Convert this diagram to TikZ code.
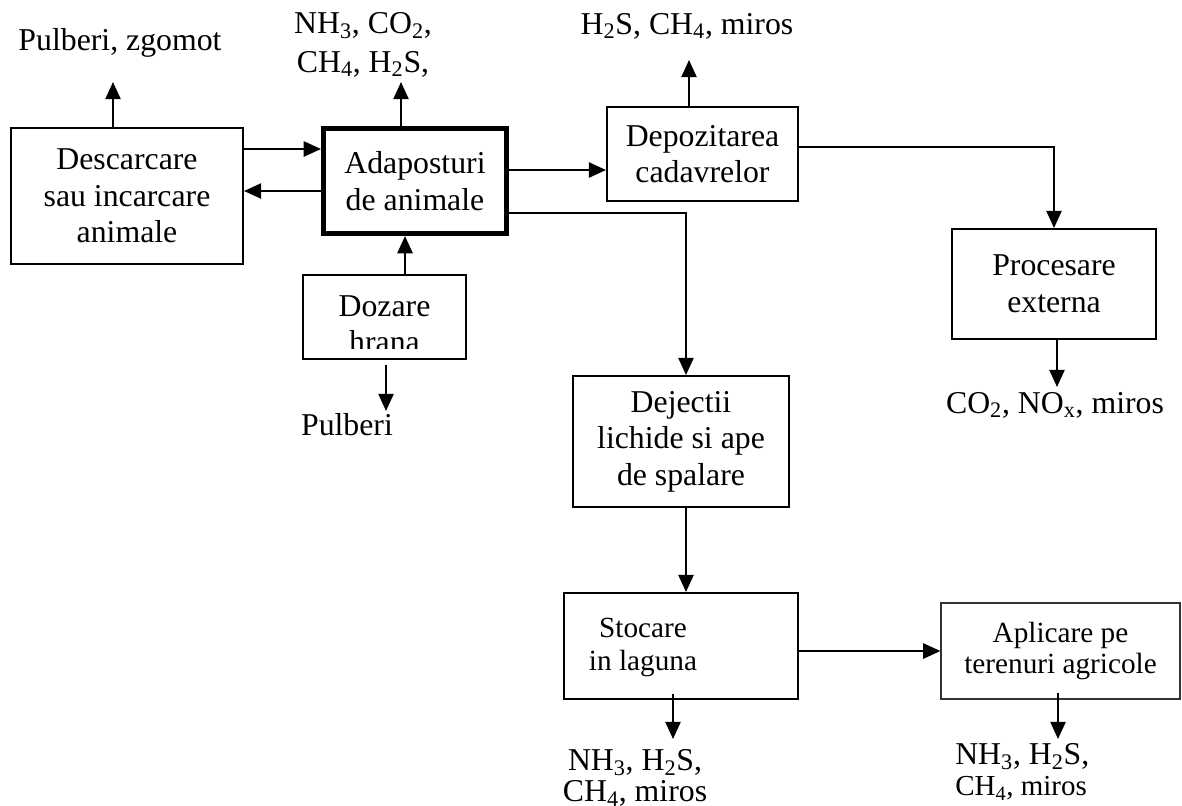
\documentclass[tikz,border=0pt]{standalone}
\usepackage{fontspec}
\setmainfont{Liberation Serif}
\usetikzlibrary{arrows.meta}

\newcommand{\bigtxt}{\fontsize{22.6}{26}\selectfont}
\newcommand{\smalltxt}{\fontsize{20.8}{23.5}\selectfont}

\tikzset{
  box/.style={draw, line width=1.4pt, align=center, inner sep=0pt},
  arr/.style={line width=1.4pt, -{Triangle[length=4.3mm,width=3.8mm]}},
  gas/.style={align=center, inner sep=0pt}
}

\begin{document}
\begin{tikzpicture}[x=0.025cm, y=-0.025cm, font=\bigtxt]
  \useasboundingbox (0,0) rectangle (1182,805);

  % boxes
  \node[box, minimum width=5.8cm, minimum height=3.4cm] (desc) at (127,196)
    {Descarcare\\sau incarcare\\animale};
  \node[box, line width=3.6pt, minimum width=4.575cm, minimum height=2.625cm] (adap) at (415,181)
    {Adaposturi\\de animale};
  \node[box, minimum width=4.775cm, minimum height=2.35cm] (dep) at (702.5,154)
    {Depozitarea\\cadavrelor};
  \node[box, minimum width=5.1cm, minimum height=2.75cm] (proc) at (1054,284)
    {Procesare\\externa};
  \node[box, minimum width=4.075cm, minimum height=2.1cm] (doz) at (384.5,317) {};
  \node[box, minimum width=5.4cm, minimum height=3.275cm] (dej) at (681,441.5)
    {Dejectii\\lichide si ape\\de spalare};
  \node[box, minimum width=5.85cm, minimum height=2.65cm] (stoc) at (681,646) {};
  \node[box, line width=0.8pt, draw=black!80, minimum width=5.975cm, minimum height=2.4cm,
    font=\fontsize{20.8}{22}\selectfont] (apl) at (1060.5,651)
    {Aplicare pe\\terenuri agricole};

  % texts of the boxes without centred text
  \begin{scope}
    \clip (doz.north west) rectangle (466,348);
    \node[gas, anchor=north] (dozt) at (384.5,295) {Dozare\\hrana};
  \end{scope}
  \node[gas, anchor=north, font=\smalltxt] (stoct) at (643,618) {Stocare\\in laguna};

  % emissions
  \node[gas, anchor=base] (gA) at (120,50) {Pulberi, zgomot};
  \node[gas, anchor=north, font=\fontsize{22.6}{27.7}\selectfont] (gB) at (363,12)
    {NH\textsubscript{3}, CO\textsubscript{2},\\CH\textsubscript{4}, H\textsubscript{2}S,};
  \node[gas, anchor=base] (gC) at (687,34) {H\textsubscript{2}S, CH\textsubscript{4}, miros};
  \node[gas, anchor=base] (gD) at (1055,413) {CO\textsubscript{2}, NO\textsubscript{x}, miros};
  \node[gas, anchor=base] (gE) at (347,435) {Pulberi};
  \node[gas, anchor=north, font=\fontsize{22.6}{22.5}\selectfont] (gF) at (635,749)
    {NH\textsubscript{3}, H\textsubscript{2}S,\\CH\textsubscript{4}, miros};
  \node[gas, anchor=north west, align=left, font=\fontsize{22.6}{22.5}\selectfont] (gG) at (955,743)
    {NH\textsubscript{3}, H\textsubscript{2}S,\\{\fontsize{20.6}{22.5}\selectfont CH\textsubscript{4}, miros}};

  \coordinate (pA) at (113,82);
  \coordinate (pB) at (401,82);
  \coordinate (pC) at (689,60);
  \coordinate (pD) at (1057,387);
  \coordinate (pE) at (386,411);
  \coordinate (pF) at (673,739);
  \coordinate (pG) at (1058,739);

  % flows
  \draw[arr] (desc.east |- 0,149) -- (adap.west |- 0,149);
  \draw[arr] (adap.west |- 0,191) -- (desc.east |- 0,191);
  \draw[arr] (adap.east |- 0,170) -- (dep.west |- 0,170);
  \draw[arr] (adap.east |- 0,213) -| (dej.north -| 686,0);
  \draw[arr] (dep.east |- 0,147) -| (proc.north);
  \draw[arr] (doz.north -| 405,0) -- (adap.south -| 405,0);
  \draw[arr] (dej.south -| 686,0) -- (stoc.north -| 686,0);
  \draw[arr] (stoc.east |- 0,651) -- (apl.west |- 0,651);

  \draw[arr] (desc.north -| pA) -- (pA);
  \draw[arr] (adap.north -| pB) -- (pB);
  \draw[arr] (dep.north -| pC) -- (pC);
  \draw[arr] (proc.south -| pD) -- (pD);
  \draw[arr, shorten <=0.125cm] (doz.south -| pE) -- (pE);
  \draw[arr, shorten <=-0.15cm] (stoc.south -| pF) -- (pF);
  \draw[arr, shorten <=-0.17cm] (apl.south -| pG) -- (pG);
\end{tikzpicture}
\end{document}
